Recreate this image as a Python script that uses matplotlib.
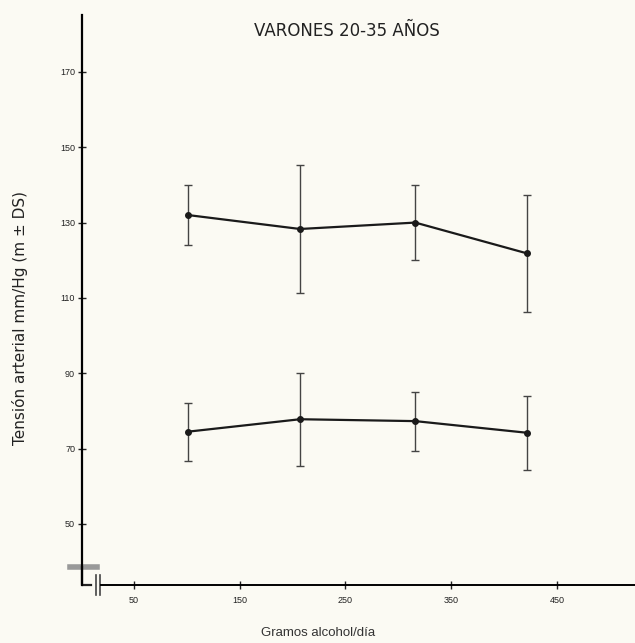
import numpy as np
import matplotlib.pyplot as plt

# Gramos de alcohol por día
gramos = [101, 207, 316, 422]

# Tensión sistólica, media y DS
sistolica = [132, 128.3, 130, 121.8]
sistolica_ds = [8, 16.9, 10, 15.5]

# Tensión diastólica, media y DS
diastolica = [74.5, 77.8, 77.3, 74.2]
diastolica_ds = [7.7, 12.3, 7.8, 9.8]

x_ticks = [50, 150, 250, 350, 450]
x_labels = ["50", "150", "250", "350", "450"]
y_ticks = [50, 70, 90, 110, 130, 150, 170]

plt.rcParams["font.family"] = ["Liberation Sans", "DejaVu Sans"]

fig = plt.figure(figsize=(6.35, 6.43), dpi=100, facecolor="#fbfaf3")
ax = fig.add_axes([82 / 635, 58 / 643, 553 / 635, 570 / 643])
ax.set_facecolor("#fbfaf3")

for media, ds in [(sistolica, sistolica_ds), (diastolica, diastolica_ds)]:
    ax.errorbar(gramos, media, yerr=ds, fmt="o-", color="#1a1a1a", ms=4,
                lw=1.6, ecolor="#444444", elinewidth=1.0, capsize=3, capthick=1.0)

ax.set_xlim(0.8, 523.8)
ax.set_ylim(33.8, 185.1)

ax.set_xticks(x_ticks)
ax.set_xticklabels(x_labels)
ax.set_yticks(y_ticks)
ax.tick_params(axis="both", direction="inout", length=6, width=1, labelsize=6.5,
               colors="#222222", pad=2)
ax.tick_params(axis="x", pad=5)

for s in ["top", "right"]:
    ax.spines[s].set_visible(False)
ax.spines["left"].set_linewidth(1.6)
ax.spines["bottom"].set_linewidth(1.4)
ax.spines["bottom"].set_bounds(19, 523.8)

# axis break marks at the origin
tr = ax.transAxes
ax.plot([-0.022, 0.027], [0.032, 0.032], transform=tr, color="#999999", lw=4,
        clip_on=False)
ax.plot([0.0, 0.0, 0.016], [0.032, 0.0, 0.0], transform=tr, color="#222222",
        lw=1.6, clip_on=False)
ax.plot([0.026, 0.026], [0.018, -0.018], transform=tr, color="#444444", lw=1.2,
        clip_on=False)
ax.plot([0.032, 0.032], [0.018, -0.018], transform=tr, color="#444444", lw=1.2,
        clip_on=False)

fig.text(347 / 635, 1 - 31 / 643, "VARONES 20-35 AÑOS", ha="center", va="center",
         fontsize=12, family="DejaVu Sans", color="#222222")
fig.text(20 / 635, 1 - 318 / 643, "Tensión arterial mm/Hg (m ± DS)", rotation=90,
         ha="center", va="center", fontsize=11, family="DejaVu Sans",
         color="#222222")
fig.text(318 / 635, 1 - 633 / 643, "Gramos alcohol/día", ha="center", va="center",
         fontsize=9.5, color="#333333")

fig.savefig("out.png", dpi=100, facecolor=fig.get_facecolor())
